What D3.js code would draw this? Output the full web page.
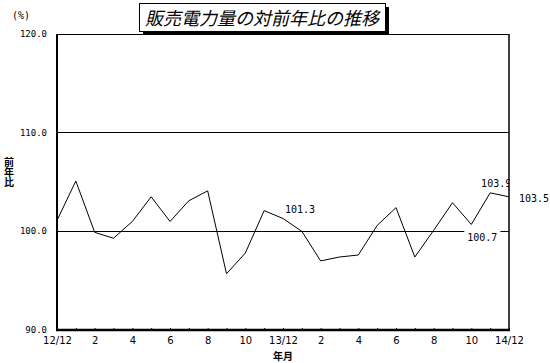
<!DOCTYPE html>
<html>
<head>
<meta charset="utf-8">
<script src="https://cdn.jsdelivr.net/npm/d3@7"></script>
<style>
  body { margin: 0; background: #fff; }
  svg { display: block; }
</style>
</head>
<body>
<div id="chart"></div>
<script>
// month labels, Dec 2012 .. Dec 2014
var months = ["12/12", "1", "2", "3", "4", "5", "6", "7", "8", "9", "10", "11",
  "13/12", "1", "2", "3", "4", "5", "6", "7", "8", "9", "10", "11", "14/12"];
// year-on-year ratio (%)
var values = [101.1, 105.1, 99.9, 99.3, 101.0, 103.5, 101.0, 103.1, 104.1, 95.7, 97.8, 102.1,
  101.3, 100.0, 97.0, 97.4, 97.6, 100.6, 102.4, 97.4, 100.1, 102.9, 100.7, 103.9, 103.5];
var yTicks = [90, 100, 110, 120];
var gridVals = [100, 110, 120];
// labelled points: index, text, offsets from the point
var callouts = [
  { i: 12, text: "101.3", dx: 17, dy: -6, anchor: "middle", bg: false },
  { i: 22, text: "100.7", dx: 11, dy: 17, anchor: "middle", bg: true },
  { i: 23, text: "103.9", dx: 6, dy: -6, anchor: "middle", bg: false },
  { i: 24, text: "103.5", dx: 10, dy: 5, anchor: "start", bg: false }
];

var width = 550, height = 363;
var margin = { top: 34, right: 41, bottom: 33, left: 57 };

var svg = d3.select("#chart").append("svg")
  .attr("width", width)
  .attr("height", height);

var x = d3.scaleLinear().domain([0, months.length - 1]).range([margin.left, width - margin.right]);
var y = d3.scaleLinear().domain([90, 120]).range([height - margin.bottom, margin.top]);

var mono = "'DejaVu Sans Mono', monospace";
var sans = "'DejaVu Sans', sans-serif";
var cjk = "'Noto Sans CJK JP', sans-serif";

// clip for labels that run into the right frame
svg.append("clipPath").attr("id", "plotClip")
  .append("rect")
  .attr("x", 0).attr("y", 0)
  .attr("width", x(months.length - 1)).attr("height", height);

// gridlines
svg.selectAll(".grid")
  .data(gridVals)
  .join("line")
  .attr("class", "grid")
  .attr("x1", x(0)).attr("x2", x(months.length - 1))
  .attr("y1", d => y(d)).attr("y2", d => y(d))
  .attr("stroke", "#000")
  .attr("stroke-width", 1)
  .attr("shape-rendering", "crispEdges");

// y labels
svg.selectAll(".ylab")
  .data(yTicks)
  .join("text")
  .attr("class", "ylab")
  .attr("x", margin.left - 10)
  .attr("y", d => y(d) + 3)
  .attr("text-anchor", "end")
  .attr("font-family", mono)
  .attr("font-size", 9)
  .text(d => d.toFixed(1));

// x axis with small inner ticks
var xAxis = d3.axisBottom(x)
  .tickValues(d3.range(months.length))
  .tickSize(-2)
  .tickFormat(i => (i % 2 === 0 ? months[i] : ""));
var gx = svg.append("g")
  .attr("transform", "translate(0," + y(90) + ")")
  .call(xAxis);
gx.select(".domain").remove();
gx.selectAll("text")
  .attr("font-family", sans)
  .attr("font-size", 10)
  .attr("dy", "1.1em");

// series line
var line = d3.line()
  .x((d, i) => x(i))
  .y(d => y(d));
svg.append("path")
  .datum(values)
  .attr("fill", "none")
  .attr("stroke", "#000")
  .attr("stroke-width", 1)
  .attr("d", line);

// value callouts
svg.selectAll(".callout")
  .data(callouts)
  .join("g")
  .attr("class", "callout")
  .attr("clip-path", d => (d.i === 23 ? "url(#plotClip)" : null))
  .each(function (d) {
    var g = d3.select(this);
    var t = g.append("text")
      .attr("x", x(d.i) + d.dx)
      .attr("y", y(values[d.i]) + d.dy)
      .attr("text-anchor", d.anchor)
      .attr("font-family", mono)
      .attr("font-size", 10)
      .text(d.text);
    if (d.bg) {
      var b = t.node().getBBox();
      g.insert("rect", "text")
        .attr("x", b.x - 3).attr("y", b.y - 4)
        .attr("width", b.width + 6).attr("height", b.height + 4)
        .attr("fill", "#fff");
    }
  });

// frame lines
svg.append("line")
  .attr("x1", x(0)).attr("x2", x(0))
  .attr("y1", y(120)).attr("y2", y(90))
  .attr("stroke", "#000").attr("stroke-width", 2);
svg.append("line")
  .attr("x1", x(months.length - 1)).attr("x2", x(months.length - 1))
  .attr("y1", y(120)).attr("y2", y(90))
  .attr("stroke", "#000").attr("stroke-width", 1.5);
svg.append("line")
  .attr("x1", x(0) - 1).attr("x2", x(months.length - 1) + 1)
  .attr("y1", y(90)).attr("y2", y(90))
  .attr("stroke", "#000").attr("stroke-width", 2.5);

// unit and axis titles
svg.append("text")
  .attr("x", 12).attr("y", 19)
  .attr("font-family", mono)
  .attr("font-size", 10)
  .text("(%)");
svg.append("text")
  .attr("x", 9).attr("y", 157)
  .attr("font-family", cjk)
  .attr("font-size", 10)
  .attr("font-weight", "bold")
  .style("writing-mode", "vertical-rl")
  .text("前年比");
svg.append("text")
  .attr("x", x(12)).attr("y", 360)
  .attr("text-anchor", "middle")
  .attr("font-family", cjk)
  .attr("font-size", 10)
  .attr("font-weight", "bold")
  .text("年月");

// title box with shadow
svg.append("rect")
  .attr("x", 143).attr("y", 7).attr("width", 246).attr("height", 28)
  .attr("fill", "#000");
svg.append("rect")
  .attr("x", 139.5).attr("y", 3.5).attr("width", 246).attr("height", 28)
  .attr("fill", "#fff").attr("stroke", "#000");
svg.append("text")
  .attr("x", 262).attr("y", 25)
  .attr("text-anchor", "middle")
  .attr("font-family", cjk)
  .attr("font-size", 18)
  .attr("font-style", "italic")
  .text("販売電力量の対前年比の推移");
</script>
</body>
</html>
